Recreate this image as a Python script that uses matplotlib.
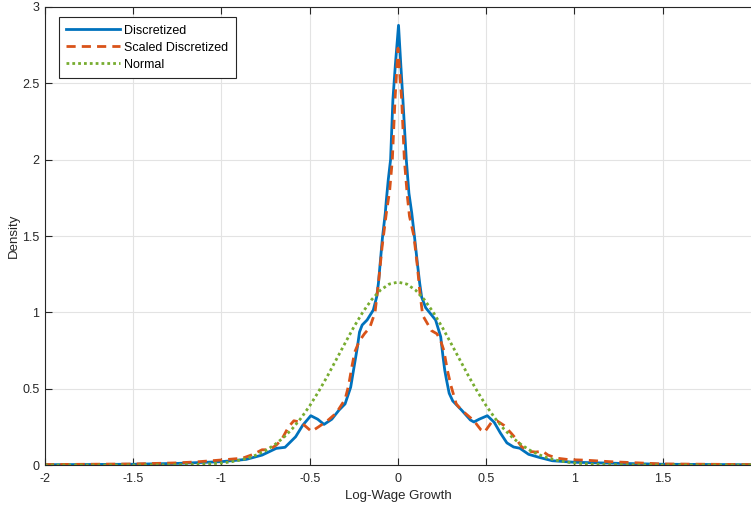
import matplotlib.pyplot as plt

# values
disc_x = [-2.0, -1.5, -1.24, -1.0, -0.86, -0.77, -0.69, -0.64, -0.58, -0.54,
          -0.494, -0.455, -0.419, -0.375, -0.334, -0.30, -0.268, -0.249, -0.23,
          -0.218, -0.203, -0.175, -0.14, -0.121, -0.111, -0.101, -0.088, -0.072,
          -0.066, -0.055, -0.042, -0.029, -0.015, 0.003,
          0.016, 0.028, 0.047, 0.062, 0.078, 0.094, 0.11, 0.123, 0.134, 0.157,
          0.185, 0.213, 0.242, 0.255, 0.265, 0.275, 0.29, 0.31, 0.36, 0.41, 0.43,
          0.46, 0.506, 0.545, 0.58, 0.617, 0.655, 0.69, 0.74, 0.80, 0.874, 1.0,
          1.25, 1.5, 2.0]
disc_y = [0.002, 0.005, 0.011, 0.022, 0.037, 0.065, 0.109, 0.116, 0.185, 0.26,
          0.323, 0.30, 0.266, 0.30, 0.36, 0.40, 0.51, 0.642, 0.773,
          0.871, 0.917, 0.95, 1.015, 1.10, 1.19, 1.32, 1.49, 1.65,
          1.735, 1.87, 2.0, 2.39, 2.62, 2.88,
          2.62, 2.39, 2.0, 1.78, 1.65, 1.49, 1.32, 1.19, 1.10, 1.03,
          0.99, 0.95, 0.84, 0.71, 0.62, 0.557, 0.47, 0.42, 0.36, 0.295, 0.282,
          0.30, 0.323, 0.28, 0.21, 0.145, 0.118, 0.11, 0.07, 0.05, 0.028, 0.018,
          0.011, 0.005, 0.002]

scaled_x = [-2.0, -1.5, -1.25, -1.15, -1.0, -0.93, -0.88, -0.82, -0.77, -0.73,
            -0.69, -0.66, -0.62, -0.59, -0.55, -0.52, -0.49, -0.45, -0.40, -0.35,
            -0.30, -0.28, -0.262, -0.245, -0.22, -0.19, -0.16, -0.13, -0.11,
            -0.09, -0.066, -0.047, -0.032, -0.017, 0.0,
            0.021, 0.036, 0.053, 0.065, 0.09, 0.11, 0.125, 0.14, 0.16, 0.19, 0.22,
            0.24, 0.26, 0.28, 0.30, 0.33, 0.36, 0.39, 0.43, 0.47, 0.49, 0.53,
            0.56, 0.60, 0.64, 0.67, 0.70, 0.74, 0.78, 0.82, 0.85, 0.90, 0.97,
            1.06, 1.2, 1.5, 2.0]
scaled_y = [0.003, 0.007, 0.014, 0.02, 0.033, 0.04, 0.045, 0.07, 0.10, 0.10,
            0.13, 0.165, 0.25, 0.29, 0.28, 0.25, 0.22, 0.25, 0.29, 0.34,
            0.43, 0.52, 0.64, 0.74, 0.81, 0.86, 0.90, 1.0, 1.2,
            1.43, 1.65, 1.80, 2.0, 2.39, 2.73,
            2.39, 2.0, 1.76, 1.63, 1.50, 1.30, 1.12, 0.98, 0.94, 0.88, 0.86,
            0.82, 0.75, 0.62, 0.52, 0.40, 0.36, 0.33, 0.29, 0.23, 0.215, 0.28,
            0.29, 0.26, 0.21, 0.17, 0.12, 0.09, 0.085, 0.09, 0.065, 0.045, 0.035,
            0.032, 0.022, 0.007, 0.003]

normal_x = [-2.0, -1.5, -1.3, -1.2, -1.1, -1.0, -0.95, -0.9, -0.85, -0.8, -0.75,
            -0.7, -0.65, -0.6, -0.55, -0.5, -0.45, -0.4, -0.35, -0.3, -0.25,
            -0.2, -0.15, -0.1, -0.05, 0.0, 0.05, 0.1, 0.15, 0.2, 0.25, 0.3,
            0.35, 0.4, 0.45, 0.5, 0.55, 0.6, 0.65, 0.7, 0.75, 0.8, 0.85, 0.9,
            0.95, 1.0, 1.1, 1.2, 1.3, 1.5, 2.0]
normal_y = [0.0, 0.0, 0.001, 0.002, 0.005, 0.013, 0.020, 0.031, 0.046, 0.067,
            0.095, 0.132, 0.178, 0.236, 0.306, 0.388, 0.481, 0.582, 0.690,
            0.798, 0.904, 1.000, 1.082, 1.145, 1.185, 1.198, 1.185, 1.145,
            1.082, 1.000, 0.904, 0.798, 0.690, 0.582, 0.481, 0.388, 0.306,
            0.236, 0.178, 0.132, 0.095, 0.067, 0.046, 0.031, 0.020, 0.013,
            0.005, 0.002, 0.001, 0.0, 0.0]

xticks = [-2, -1.5, -1, -0.5, 0, 0.5, 1, 1.5]
xtick_labels = ['-2', '-1.5', '-1', '-0.5', '0', '0.5', '1', '1.5']
yticks = [0, 0.5, 1, 1.5, 2, 2.5, 3]
ytick_labels = ['0', '0.5', '1', '1.5', '2', '2.5', '3']

plt.rcParams['font.family'] = ['Liberation Sans', 'DejaVu Sans']
plt.rcParams['font.size'] = 9

fig = plt.figure(figsize=(7.51, 5.07), dpi=100)
ax = fig.add_axes([0.0599, 0.0828, 0.9401, 0.9034])

ax.plot(disc_x, disc_y, color='#0072BD', lw=2, label='Discretized')
ax.plot(scaled_x, scaled_y, color='#D95319', lw=2, dashes=(3.3, 2.2),
        label='Scaled Discretized')
ax.plot(normal_x, normal_y, color='#77AC30', lw=2, dashes=(1, 1.1),
        label='Normal')

ax.set_xlim(-2, 2)
ax.set_ylim(0, 3)
ax.set_xticks(xticks)
ax.set_xticklabels(xtick_labels)
ax.set_yticks(yticks)
ax.set_yticklabels(ytick_labels)
ax.grid(True, color='#e3e3e3', lw=0.8)
ax.set_axisbelow(True)
ax.tick_params(direction='in', length=5, width=0.8, colors='#262626',
               top=True, right=False, labelsize=9)
ax.tick_params(axis='x', pad=6)
ax.tick_params(axis='y', pad=4)
for s in ax.spines.values():
    s.set_color('#262626')
    s.set_linewidth(0.8)
ax.spines['right'].set_visible(False)

ax.set_xlabel('Log-Wage Growth', fontsize=9.5, color='#262626', labelpad=3)
ax.set_ylabel('Density', fontsize=9.5, color='#262626', labelpad=2)

leg = ax.legend(loc='upper left', bbox_to_anchor=(0.0198, 0.978),
                borderaxespad=0, fancybox=False, edgecolor='#262626',
                framealpha=1, handlelength=4.3, borderpad=0.6,
                labelspacing=0.4, handletextpad=0.3, fontsize=9)
leg.get_frame().set_linewidth(0.8)

fig.savefig('out.png', dpi=100)
